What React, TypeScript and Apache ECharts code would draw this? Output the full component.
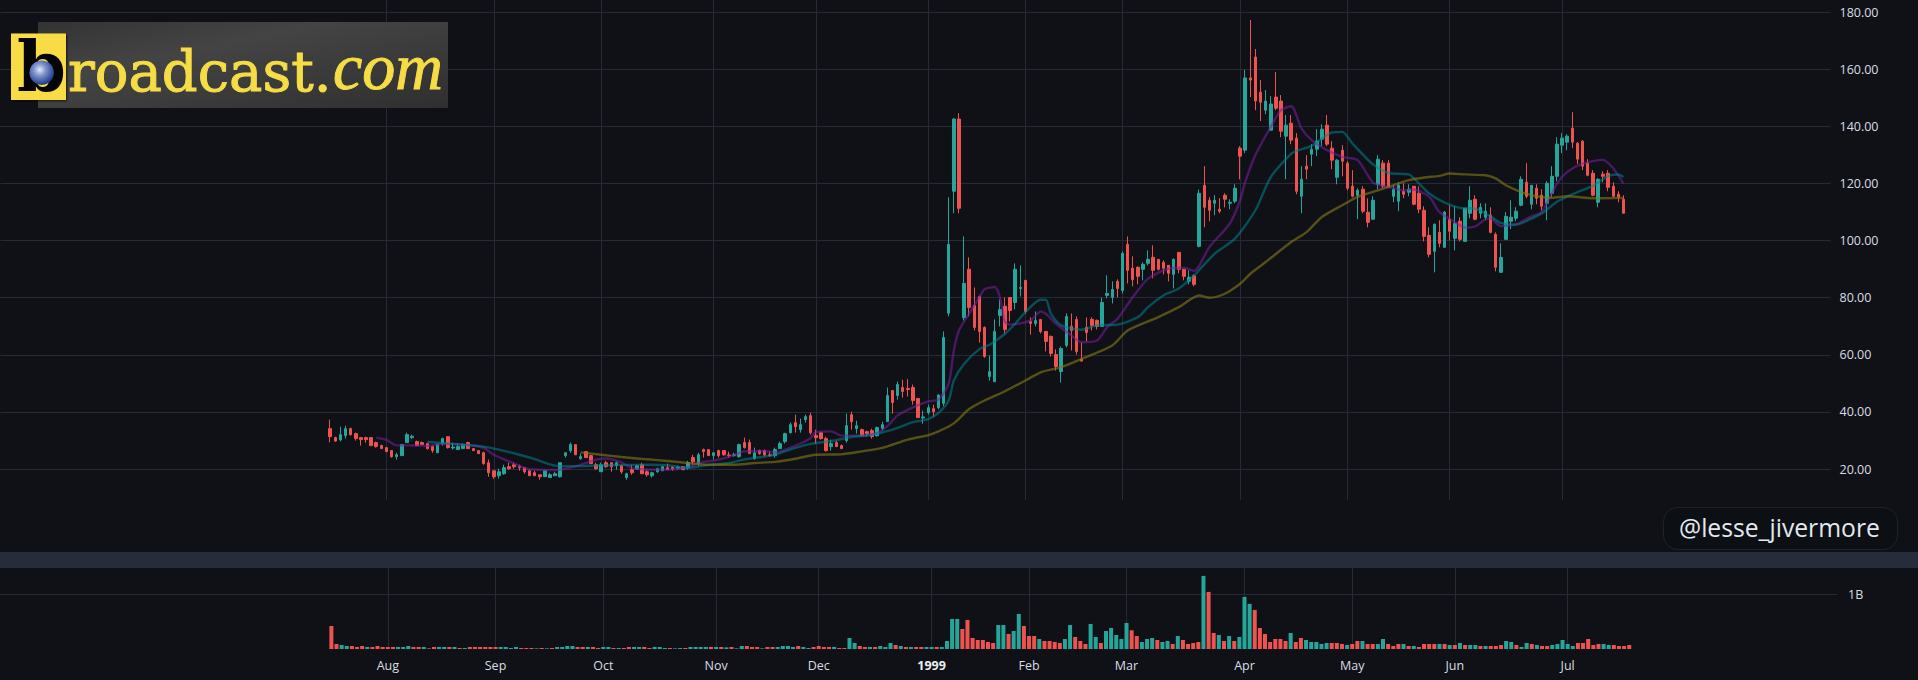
import React, { useEffect, useRef } from "react";
import * as echarts from "echarts";

const highs = [
37.3,31.35,34.85,35.2,34.5,32.75,31,31.35,31,29.6,
28.55,27.5,26.45,25.7,28.55,32.75,32.05,29.95,29.6,28.9,
28.2,28.55,31,31.35,29.25,28.9,28.9,29.6,27.15,26.45,
26.1,23.3,19.4,20.1,21.5,22.2,22.2,21.5,20.45,19.75,
19.4,18,19.4,18.6,19.05,22.2,25.7,29.25,28.55,25.4,
26.1,25,22.2,22.2,22.9,22.2,22.6,21.5,18.7,21.5,
21.5,22.2,19.75,19.05,20.45,21.15,21.9,20.9,21.15,20.8,
22.9,25,25.7,27.15,26.8,25.7,26.8,26.45,26.1,25.7,
28.9,31,30.3,27.5,26.8,26.8,26.1,27.5,29.6,32.75,
36.25,39.05,37.65,39.05,39.75,33.8,33.1,31.35,30.3,29.95,
28.55,39.4,40.1,36.95,34.15,33.45,34.15,34.85,36.6,48.55,
47.5,50.65,51.3,51.5,49.6,44.7,40.45,42.55,42.55,46.2,
68.2,115.2,142.8,144.7,101.5,94.15,83.6,80.8,69.95,59.8,
72.4,79.4,80.1,80.1,92.05,91.35,86.1,73.1,75.2,72.4,
68.2,66.8,61.9,62.9,74.5,74.5,73.45,64.3,73.1,73.1,
72.4,80.1,87.85,85.75,86.45,96.25,101.5,94.5,91,92.4,
96.6,98.35,93.45,93.1,91.35,93.8,95.9,89.95,89.6,88.2,
117.9,126.1,115.2,115.9,114.85,116.6,114.5,119.75,133.1,159.8,
177.3,167.15,156.25,152.75,150.65,159.05,151,144,144,137.65,
126.1,129.95,133.8,139.05,140.8,144,134.85,128.55,133.45,127.85,
124.7,118.35,119.05,114.85,115.55,129.95,128.2,128.2,119.4,120.45,
120.1,119.75,119.05,119.05,112.05,104.7,106.05,107.15,110.3,112.4,
112.05,108.2,111.35,119.05,115.9,113.1,113.1,111.7,102.9,99.05,
110,114.15,111.7,122.55,127.15,119.4,119.75,118,120.8,126.1,
136.25,137.65,137.3,145,134.5,135.2,128.55,124.7,121.85,124.3,
124.7,120.45,117.3,115.9];

const bodyTops = [
34.15,31,32.05,34.15,34.15,32.4,31,31,31,29.25,
28.2,27.5,26.45,25,28.55,32.05,31.5,29.6,29.25,28.9,
27.85,28.55,30.65,31.35,27.7,27.85,28.55,29.25,27.15,26.45,
25.7,22.2,19.4,19.05,20.45,20.8,21.5,20.8,20.45,19.4,
18.7,18,19.4,18,18.35,22.2,25.7,28.55,28.55,24.35,
26.1,24.7,21.5,21.5,22.2,22.2,22.2,21.15,18.35,19.75,
21.15,21.5,19.05,18.7,20.1,20.8,20.45,20.6,20.7,20.8,
22.2,24,25,26.8,26.8,25.7,26.45,26.45,24.95,25,
28.55,29.25,29.25,25.7,26.45,26.45,25,26.8,28.9,32.4,
35.55,36.25,35.55,38.35,38.7,31.7,32.75,30.65,28.9,29.25,
28.2,35.2,39.05,35.2,33.8,33.1,33.45,34.5,35.55,45.75,
47.5,49.6,48.55,48.2,48.55,44.7,38.25,41.5,41.15,45.9,
66.1,98.7,142.6,142.6,85,89.95,77.3,80.45,69.6,54.15,
68.2,75.9,77,80.1,89.95,83.6,86.1,71.7,72.05,72.4,
68.2,66.45,60.1,62.2,73.45,69.95,72.4,58.5,69.6,72.4,
72.05,78.35,81.5,82.9,85.75,95.55,98.7,90.3,90.65,91.7,
93.45,94.15,93.45,92.4,91.35,93.45,95.9,89.95,87.15,87.7,
116.6,119.4,114.15,114.15,111,115.9,113.45,118.35,132.4,157,
157,164.3,152,148.9,147.85,150.3,148.9,140.45,141.15,135.9,
121.5,126.1,132.05,134.85,139.05,140.45,132.4,128.2,131.7,127.15,
119.05,117.65,118,109.95,114.15,128.55,127.15,127.15,118,119.4,
117.3,118,119.05,116.6,110.65,101.85,105.7,102.9,110,107.5,
106.05,106.8,111.35,114.15,114.5,111.7,110.3,108.9,102.2,94.15,
108.5,108.2,110.3,121.5,120.45,119.4,118.35,115.9,120.1,122.55,
133.8,135.9,136.6,139.4,134.15,134.85,127.15,123.6,121.5,123.3,
123.6,119.05,116.25,114.5];

const bodyBottoms = [
31.35,29.8,30.2,31.7,32.05,30.65,30.3,30.3,28.2,27.85,
27.15,26.1,24.3,24.3,24.7,29.25,31,28.2,28.55,27.15,
26.45,25.7,28.9,27.5,27.35,26.8,27.15,27.15,26.45,25.4,
21.9,18.7,17.3,17.65,18.35,20.1,20.8,20.45,19.05,17.65,
17.65,17.3,17.3,17,17.65,17.3,24.7,26.45,25,23.6,
24,21.9,20.1,19.05,20.8,20.8,21.2,19.05,17,18.7,
20,18.35,18,17.65,19.05,19.4,19.75,20,20.35,19.75,
20.45,22.55,21.9,26.1,24.7,24.7,24.7,25,24.7,24.7,
24.35,27.5,25.4,23.6,25.4,25,24.7,24.7,27.15,29.6,
32.75,34.85,33.8,37.3,32.75,31,30.65,26.45,27.85,27.85,
27.15,29.95,36.6,34.15,31.7,32.4,31.35,31.7,34.15,36.6,
43.3,45.75,47.15,47.85,44,38,37.9,39.75,40.1,41.5,
43,74.6,117.3,111.35,73,76.6,69.6,68.2,59.4,52.4,
50.6,73.8,68.9,75.55,78.35,83.25,75.2,71,71,68.2,
64.7,60.5,55.9,54.15,63.3,68.55,61.2,57.8,67.8,70.3,
69.95,69.95,80.8,80.1,83.25,82.55,89.6,86.4,87.5,89.95,
92.05,89.6,89.95,90.3,88.55,88.2,89.95,87.5,85.75,84.7,
98,111.7,110.65,113.1,110.3,114.5,113.1,113.8,129.6,131.7,
156.25,148.9,148.5,145.7,138.7,146.4,138.35,136.6,135.2,117.3,
115.55,125.05,130.3,132.05,135.55,133.8,128.2,122.2,127.85,118.35,
115.55,115.9,110.3,106.45,107.5,119.75,119.05,118.7,115.55,113.8,
116.25,116.95,112.75,111,101.5,95.2,96.25,99.05,97.65,103.3,
100.8,100.45,99.75,109.6,107.5,109.6,108.2,102.9,90.65,88.9,
100.45,106.8,107.85,112.4,115.55,112.75,114.85,112.05,113.1,116.6,
122.55,133.45,134.5,134.5,128.55,126.1,122.9,115.9,113.45,122.55,
118.7,115.55,115.2,109.6];

const lows = [
29.35,29.5,29.7,30.65,31.7,29.95,28.2,29.25,28.2,27.5,
27.15,26.1,24,23.3,24.7,29.25,30.5,28.2,28.55,26.8,
25.7,25.7,28.2,27.15,26.8,26.8,27.15,27.15,26.45,25.4,
21.5,17.3,16.6,16.6,18,19.75,20.1,19.4,18.35,17.65,
17.65,16.25,17.3,17,17.65,17,24,25.7,25,23.3,
24,21.9,19.75,19.05,20.45,19.05,19.75,18.35,16.25,18,
19.75,18.35,17.3,17,18.7,19.4,19.75,19.4,19.75,19.75,
19.75,21.5,21.15,24,24.7,23.3,24,24.7,24,24.35,
24,27.15,25.4,23.3,25,24.35,24.35,24,27.15,28.9,
32.4,32.75,32.75,36.25,32.05,28.9,30.3,26.1,26.45,27.85,
27.15,29.25,33.8,32.4,31.35,31.35,30.65,31.35,33.45,36.6,
39.4,44.3,45,45.4,42.55,38,35.9,39.05,38.35,41,
42,73.45,109.6,109.6,72,73.45,68.55,64.3,59,51,
50.6,69.95,67.5,71.7,75.9,80.45,74.4,67.1,69.95,67.5,
61.2,59.4,54.5,50.3,62.6,61.5,60.1,57.8,64.7,68.55,
68.9,69.95,79.75,78,80.1,81.5,85,84,84.7,86.1,
91.35,86.8,89.6,88.2,85.75,83.25,88.55,86.1,84.7,84,
97.65,104.7,106.8,108.9,109.6,111.7,111,113.1,121.5,130.65,
150.3,145.7,141.9,144.3,138.7,145.7,136.25,121.5,133.8,116.25,
109.6,121.5,126.1,129.6,133.1,133.1,125.05,119.75,122.55,117.65,
115.2,107.5,109.6,104.7,107.5,118,118.35,118.7,113.45,110.3,
114.85,115.55,112.4,109.6,99.75,94.15,88.9,97.65,97.65,100.1,
96.6,99.75,99.75,107.85,107.15,107.85,107.15,102.55,89.25,88.9,
100.45,104,106.8,112.05,114.85,111,112.75,110.65,107.15,115.2,
120.8,130.65,131.7,132.4,126.8,124.7,122.55,115.55,111.7,120.45,
117.3,115.2,113.45,109.6];

const candleDirections =
  "rrttrrrrrr" + "rrrttttrrr" + "rttrtttrrr" + "rrrttrrrrr" + "rrttttttrt" +
  "rrrtrrtrtr" + "trrtttrrtr" + "trtrrtrrrt" + "trrtrrrttt" + "trttrrrrtr" +
  "rtrtrrrttt" + "rtrrrrttrt" + "tttrtrrrrt" + "ttrrttrrtr" + "rrrttrrrrr" +
  "rtttrtrrrt" + "trrrrtrrtr" + "trrtrrttrt" + "rrrttrrtrr" + "trtttrrtrr" +
  "rtrrttrrtt" + "rtrrrrtrtr" + "trttrttrrt" + "ttttrtrrtt" + "tttrrrrrtr" + "rrrr";

const volumes = [
421,92,73,55,55,37,55,37,37,55,
37,37,37,37,37,55,37,37,37,12,
37,37,37,37,37,18,18,37,37,37,
37,37,37,37,37,18,37,18,18,18,
12,18,12,18,37,37,55,55,37,37,
37,37,18,37,37,18,18,18,37,37,
37,37,18,37,37,18,18,12,18,18,
37,37,37,37,37,37,37,30,37,12,
55,55,37,37,12,37,37,37,55,55,
37,55,37,18,37,55,37,37,37,18,
18,201,110,55,37,37,37,55,37,110,
73,55,37,37,37,37,37,37,37,37,
146,549,549,366,531,201,165,165,128,110,
439,439,275,329,641,421,238,238,183,146,
146,128,110,183,439,220,146,92,458,220,
110,329,384,256,183,476,342,238,128,183,
201,165,128,146,92,238,165,92,110,128,
1336,1043,293,256,146,238,146,220,952,824,
714,384,275,128,183,183,146,293,128,201,
165,128,128,92,110,110,110,92,73,92,
146,146,92,92,92,183,92,55,92,92,
55,55,37,92,92,92,92,92,73,73,
110,73,73,73,55,55,55,55,73,146,
128,73,37,110,92,73,55,55,73,92,
165,92,55,110,110,183,73,92,92,73,
73,55,55,73];

const volumeDirections =
  "rrttrrrtrr" + "rrrtttrrtr" + "rttrtrtrrr" + "rrrttttrrr" + "trtrttttrr" +
  "trrttrtrrt" + "trrtttrttr" + "ttttrtrtrt" + "trrrtrrttt" + "trttrrrrtr" +
  "rttrrtrttt" + "rtrtrrttrt" + "tttrrrrrrr" + "ttrttrrrtr" + "rrrttrrrtt" +
  "rtttttrrtt" + "trttrtrrrr" + "trrtrtrttt" + "rrrrrrrtrr" + "tttttrrrtr" +
  "rtrrttrrrt" + "rtrrrrtrtr" + "trttrtrrrt" + "trttrtrrtt" + "tttrrrrrtt" + "rrrr";

const purpleAverage: [number, number][] = [
[9,31],[11,30.2],[13,28.3],[16,28.3],[19,28.1],[22,28.8],[27,28.4],[30,27.4],[32,25],[35,22.7],[39,19.9],[44,19.65],[48,20.9],[52,23.3],[54,23.7],[57,22.3],[59,20.4],[63,19.8],[66,19.8],[70,20.6],[72,22.1],[76,23.3],[79,24.9],[81,26.2],[85,26.3],[87,25.85],[91,28.2],[94,30.9],[95,33],[98,33.2],[100,31.7],[104,31.7],[107,32.6],[109,35],[111,38.8],[114,41.6],[117,43.7],[119,44.3],[121,50],[122,61.5],[123,68.5],[125,74.4],[127,80.2],[128,83],[130,83.75],[131,80.2],[132,71.5],[133,70.6],[137,72],[139,75.2],[140,74.4],[142,70.9],[145,66.8],[147,64.4],[150,65],[152,69.7],[154,72.6],[157,80.2],[160,86.7],[164,90.2],[167,90.5],[169,89.4],[172,97.8],[176,106],[178,114.15],[179,120.6],[181,130],[184,139.9],[186,145.7],[188,147.1],[190,139.3],[192,135.2],[195,131.7],[198,129.35],[201,128.2],[204,120.35],[207,118.8],[210,117.65],[212,117.9],[215,115.3],[217,110],[220,106.55],[222,104.55],[224,105],[226,107.5],[227,107.7],[229,105.1],[232,105.7],[235,108.5],[237,110],[240,120],[242,124.1],[245,127],[249,128.3],[251,125.3],[253,120]];

const tealAverage: [number, number][] = [
[19,29.5],[22,29.1],[26,28.5],[30,27.85],[33,26.8],[37,25],[40,23.5],[44,21.2],[48,21],[52,21.2],[56,21.4],[62,21.5],[66,21.3],[70,20.35],[73,21.2],[78,22.1],[81,23.3],[85,24.4],[87,25],[91,27.4],[94,28.8],[98,29.8],[102,31.2],[106,32],[110,33.8],[114,36.4],[117,37.5],[119,39.65],[121,44],[122,51],[124,56.8],[127,62],[129,63.5],[132,67.4],[134,70.9],[136,75],[139,79.3],[140,79.3],[141,74.4],[143,70.3],[147,68.8],[150,70.3],[154,70.6],[158,73.2],[160,76.7],[163,80.8],[166,83.2],[169,87.8],[173,95.4],[177,100.7],[181,110.65],[184,122.3],[188,130.5],[189,131.4],[192,133.2],[196,137.9],[198,138.1],[200,134],[204,126.7],[207,123.7],[211,123.2],[213,120],[215,116.5],[218,113.3],[221,111.5],[224,111.2],[227,108.5],[229,106.2],[232,105.6],[235,107.7],[237,109.5],[240,113.6],[244,117],[247,119.2],[250,122.6],[252,123.15],[253,122.3]];

const oliveAverage: [number, number][] = [
[49,25.85],[53,25],[57,24.2],[62,23.4],[66,22.8],[70,22.1],[74,21.5],[79,21.5],[83,22.1],[87,22.5],[91,23.6],[95,25],[100,25.15],[104,26.2],[108,27.4],[113,30.3],[117,31.9],[119,33.2],[122,36],[125,41],[128,44],[132,47.25],[136,51],[139,53.9],[143,55.7],[147,58.6],[153,63.3],[156,68.5],[162,73.2],[166,76.7],[170,80.8],[172,80],[175,81.4],[178,84.9],[180,88.4],[183,92.5],[188,99.5],[191,103],[194,108.3],[198,112.4],[201,115.3],[206,118.2],[211,121.2],[214,122.1],[217,122.7],[219,123.5],[222,123.2],[226,122.9],[228,121.8],[230,119.4],[233,117],[236,115.55],[239,115],[242,115.55],[247,114.85],[253,115]];

const monthLabels = ["Aug","Sep","Oct","Nov","Dec","1999","Feb","Mar","Apr","May","Jun","Jul"];
const monthBars = [11,32,53,75,95,117,136,155,178,199,219,241];
const priceTicks = [20,40,60,80,100,120,140,160,180];

const PAD_LEFT = 64;
const SLOTS = 358;
const BG = "#0f1116";
const GRID = "#262a38";
const UP = "#26a69a";
const DOWN = "#ef5350";
const FONT = "'Open Sans', sans-serif";

const categories: string[] = Array.from({ length: SLOTS }, () => "");
monthBars.forEach((b, i) => { categories[b + PAD_LEFT] = monthLabels[i]; });
const isMonth = (_: number, v: string) => v !== "";

const candleData = highs.map((h, i) => {
  const up = candleDirections[i] === "t";
  return [i + PAD_LEFT, up ? bodyBottoms[i] : bodyTops[i], up ? bodyTops[i] : bodyBottoms[i], lows[i], h];
});
const volumeData = volumes.map((v, i) => ({
  value: [i + PAD_LEFT, v],
  itemStyle: { color: volumeDirections[i] === "t" ? UP : DOWN },
}));
const line = (pts: [number, number][], color: string) => ({
  type: "line", xAxisIndex: 0, yAxisIndex: 0, showSymbol: false, symbol: "none", smooth: 0.25, silent: true, z: 5,
  data: pts.map(([i, v]) => [i + PAD_LEFT, v]),
  lineStyle: { color, width: 2.4 },
});
const logoShadow = { shadowColor: "rgba(0,0,0,0.8)", shadowBlur: 2, shadowOffsetX: 2, shadowOffsetY: 2 };

export default function App() {
  const ref = useRef<HTMLDivElement>(null);
  useEffect(() => {
    document.body.style.margin = "0";
    document.body.style.background = BG;
    document.body.style.overflow = "hidden";
    const chart = echarts.init(ref.current!, undefined, { renderer: "svg" });
    const xBase = {
      type: "category", data: categories,
      axisLine: { show: false }, axisTick: { show: false },
      splitLine: { show: true, interval: isMonth, alignWithLabel: true, lineStyle: { color: GRID, width: 1 } },
    };
    chart.setOption({
      animation: false,
      backgroundColor: BG,
      grid: [
        { left: 0.5, top: 0, width: 1830, height: 500 },
        { left: 0.5, top: 568, width: 1836.5, height: 81 },
      ],
      xAxis: [
        { ...xBase, gridIndex: 0, axisLabel: { show: false } },
        {
          ...xBase, gridIndex: 1,
          axisLabel: {
            show: true, interval: isMonth, margin: 10, color: "#d9dce3", fontFamily: FONT, fontSize: 12.5,
            formatter: (v: string) => (v === "1999" ? "{b|1999}" : v),
            rich: { b: { fontWeight: "bold", color: "#eceef2", fontFamily: FONT, fontSize: 12.5 } },
          },
        },
      ],
      yAxis: [
        {
          type: "value", gridIndex: 0, position: "right", min: 9.15, max: 184.3,
          axisLine: { show: false }, axisTick: { show: false },
          splitNumber: 9,
          axisLabel: {
            show: true, margin: 9, color: "#d9dce3", fontFamily: FONT, fontSize: 12.5,
            showMinLabel: true, showMaxLabel: true,
            customValues: priceTicks,
            formatter: (v: number) => v.toFixed(2),
          },
          splitLine: { show: true, showMinLine: false, showMaxLine: false, lineStyle: { color: GRID, width: 1 } },
        },
        {
          type: "value", gridIndex: 1, position: "right", min: 0, max: 1480, interval: 1000,
          axisLine: { show: false }, axisTick: { show: false },
          axisLabel: {
            show: true, margin: 11, color: "#d9dce3", fontFamily: FONT, fontSize: 12.5,
            showMaxLabel: false, showMinLabel: false,
            formatter: (v: number) => (v === 1000 ? "1B" : ""),
          },
          splitLine: { show: true, showMinLine: false, showMaxLine: false, lineStyle: { color: GRID, width: 1 } },
        },
      ],
      series: [
        {
          type: "candlestick", xAxisIndex: 0, yAxisIndex: 0, barWidth: 3, silent: true,
          encode: { x: 0, y: [1, 2, 3, 4] },
          data: candleData,
          itemStyle: { color: UP, color0: DOWN, borderColor: UP, borderColor0: DOWN, borderWidth: 1 },
        },
        line(purpleAverage, "rgba(123,31,162,0.55)"),
        line(tealAverage, "rgba(0,131,143,0.55)"),
        line(oliveAverage, "rgba(130,119,23,0.62)"),
        {
          type: "bar", xAxisIndex: 1, yAxisIndex: 1, barWidth: 4, silent: true,
          data: volumeData,
        },
      ],
      graphic: [
        { type: "rect", shape: { x: 0, y: 552, width: 1918, height: 16 }, style: { fill: "#262c3a" }, z: 10 },
        {
          type: "rect", shape: { x: 1663.5, y: 507.5, width: 234, height: 42, r: 14 },
          style: { fill: "#0c0f14", stroke: "#1f232d", lineWidth: 1 }, z: 11,
        },
        {
          type: "text", x: 1679, y: 527, z: 12,
          style: { text: "@lesse_jivermore", fill: "#e4e8f0", fontFamily: FONT, fontSize: 24.7, verticalAlign: "middle", align: "left" },
        },
        {
          type: "rect", shape: { x: 38, y: 22, width: 410, height: 86 }, z: 20,
          style: {
            fill: new echarts.graphic.LinearGradient(0, 0, 1, 1, [
              { offset: 0, color: "#333333" }, { offset: 0.35, color: "#444444" }, { offset: 1, color: "#2f2f2f" },
            ]),
          },
        },
        {
          type: "rect", shape: { x: 11, y: 33.5, width: 55, height: 66.5 }, z: 21,
          style: { fill: "#f7dc45", shadowColor: "rgba(0,0,0,0.7)", shadowBlur: 2, shadowOffsetX: 1, shadowOffsetY: 1 },
        },
        {
          type: "text", x: 17, y: 31, z: 22,
          style: { text: "b", fill: "#050505", fontFamily: "'DejaVu Serif'", fontWeight: "bold", fontSize: 70 },
        },
        {
          type: "circle", shape: { cx: 41.7, cy: 72.7, r: 12.3 }, z: 23,
          style: {
            fill: new echarts.graphic.RadialGradient(0.42, 0.38, 0.62, [
              { offset: 0, color: "#e6e9f5" }, { offset: 0.4, color: "#7f93cc" }, { offset: 1, color: "#1c3a8c" },
            ]),
          },
        },
        {
          type: "text", x: 68, y: 43, z: 22,
          style: { text: "roadcast.", fill: "#f6dc45", stroke: "#f6dc45", lineWidth: 1, fontFamily: "'DejaVu Serif'", fontSize: 56, ...logoShadow },
        },
        {
          type: "text", x: 333, y: 33, z: 22,
          style: { text: "com", fill: "#f6dc45", stroke: "#f6dc45", lineWidth: 1, fontFamily: "'Liberation Serif'", fontStyle: "italic", fontSize: 66, ...logoShadow },
        },
      ],
    });
    return () => chart.dispose();
  }, []);
  return <div ref={ref} style={{ width: 1918, height: 680 }} />;
}
